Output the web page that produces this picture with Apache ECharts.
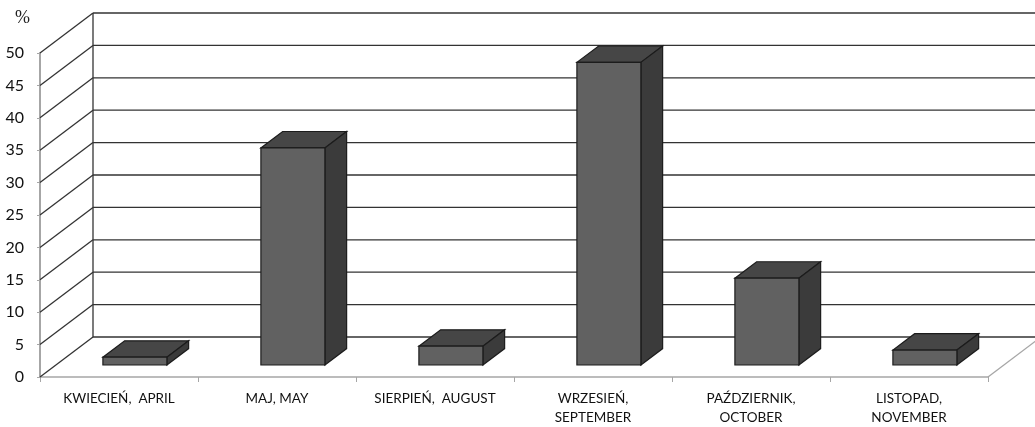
<!DOCTYPE html>
<html>
<head>
<meta charset="utf-8">
<script src="https://cdn.jsdelivr.net/npm/echarts@6/dist/echarts.min.js"></script>
<style>
  html, body { margin: 0; padding: 0; background: #fff; }
  #chart { width: 1035px; height: 427px; }
</style>
</head>
<body>
<div id="chart"></div>
<script>
// Monthly share (%) shown as 3D-style columns
const categories = [
  'KWIECIEŃ,  APRIL',
  'MAJ, MAY',
  'SIERPIEŃ,  AUGUST',
  'WRZESIEŃ,\nSEPTEMBER',
  'PAŹDZIERNIK,\nOCTOBER',
  'LISTOPAD,\nNOVEMBER'
];
const values = [1.2, 33.5, 2.9, 46.7, 13.4, 2.3];
const yTicks = [0, 5, 10, 15, 20, 25, 30, 35, 40, 45, 50];

// oblique depth of the plot box (pixels from front plane to back wall)
const DEPTH_X = 53;
const DEPTH_Y = 40;
// columns sit between these fractions of the depth
const BAR_FRONT = 0.3;
const BAR_BACK = 0.71;
const BAR_WIDTH = 0.405;

const GRID_COLOR = '#333';
const AXIS_COLOR = '#a6a6a6';
const LABEL_FONT = 'Lato, "Open Sans", sans-serif';

const chart = echarts.init(document.getElementById('chart'), null, { renderer: 'canvas' });

function wallLines(params, api) {
  const cs = params.coordSys;
  const y = api.coord([0, api.value(1)])[1];
  const left = cs.x, right = cs.x + cs.width;
  const style = { stroke: GRID_COLOR, lineWidth: 1.3, fill: null };
  return {
    type: 'group',
    children: [
      { type: 'line', shape: { x1: left, y1: y, x2: left + DEPTH_X, y2: y - DEPTH_Y }, style },
      { type: 'line', shape: { x1: left + DEPTH_X, y1: y - DEPTH_Y, x2: right + DEPTH_X, y2: y - DEPTH_Y }, style }
    ]
  };
}

function frameLines(params, api) {
  const cs = params.coordSys;
  const left = cs.x, right = cs.x + cs.width;
  const y0 = api.coord([0, 0])[1];
  const yTop = api.coord([0, yTicks[yTicks.length - 1]])[1];
  return {
    type: 'group',
    children: [
      { type: 'line', shape: { x1: left + DEPTH_X, y1: y0 - DEPTH_Y, x2: left + DEPTH_X, y2: yTop - DEPTH_Y },
        style: { stroke: GRID_COLOR, lineWidth: 1.3 } },
      { type: 'line', shape: { x1: right, y1: y0, x2: right + DEPTH_X, y2: y0 - DEPTH_Y },
        style: { stroke: AXIS_COLOR, lineWidth: 1.3 } }
    ]
  };
}

function column(params, api) {
  const i = api.value(0);
  const v = api.value(1);
  const base = api.coord([i, 0]);
  const top = api.coord([i, v]);
  const band = api.size([1, 0])[0];
  const w = band * BAR_WIDTH;
  const fx = DEPTH_X * BAR_FRONT, fy = DEPTH_Y * BAR_FRONT;
  const dx = DEPTH_X * (BAR_BACK - BAR_FRONT), dy = DEPTH_Y * (BAR_BACK - BAR_FRONT);
  const x0 = base[0] - w / 2 + fx;
  const x1 = x0 + w;
  const yB = base[1] - fy;
  const yT = top[1] - fy;
  const stroke = '#1c1c1c';
  return {
    type: 'group',
    children: [
      { type: 'polygon', shape: { points: [[x0, yT], [x1, yT], [x1 + dx, yT - dy], [x0 + dx, yT - dy]] },
        style: { fill: '#464646', stroke, lineWidth: 1.2 } },
      { type: 'polygon', shape: { points: [[x1, yT], [x1 + dx, yT - dy], [x1 + dx, yB - dy], [x1, yB]] },
        style: { fill: '#3b3b3b', stroke, lineWidth: 1.2 } },
      { type: 'rect', shape: { x: x0, y: yT, width: w, height: yB - yT },
        style: { fill: '#616161', stroke, lineWidth: 1.2 } }
    ]
  };
}

chart.setOption({
  animation: false,
  backgroundColor: '#fff',
  title: {
    text: '%',
    left: 10,
    top: 4,
    textStyle: { fontFamily: '"Liberation Serif", "DejaVu Serif", serif', fontSize: 18, fontWeight: 'normal', color: '#222' }
  },
  grid: { left: 40, right: 47, top: 53, bottom: 50, containLabel: false },
  xAxis: {
    type: 'category',
    data: categories,
    boundaryGap: true,
    axisLine: { show: true, lineStyle: { color: AXIS_COLOR, width: 1.5 } },
    axisTick: { show: true, length: 5, interval: 0, lineStyle: { color: AXIS_COLOR } },
    axisLabel: {
      interval: 0,
      margin: 12,
      fontFamily: LABEL_FONT,
      fontSize: 13.5,
      lineHeight: 19,
      color: '#111'
    },
    splitLine: { show: false }
  },
  yAxis: {
    type: 'value',
    min: 0,
    max: 50,
    interval: 5,
    axisLine: { show: true, lineStyle: { color: AXIS_COLOR, width: 2 } },
    axisTick: { show: true, length: 3, lineStyle: { color: AXIS_COLOR } },
    axisLabel: { margin: 16, fontFamily: LABEL_FONT, fontSize: 16, color: '#111' },
    splitLine: { show: false }
  },
  series: [
    {
      type: 'custom',
      renderItem: wallLines,
      data: yTicks.map(t => [0, t]),
      z: 1,
      silent: true
    },
    {
      type: 'custom',
      renderItem: frameLines,
      data: [[0, 0]],
      z: 1,
      silent: true
    },
    {
      type: 'custom',
      renderItem: column,
      data: values.map((v, i) => [i, v]),
      z: 3
    }
  ]
});
</script>
</body>
</html>
